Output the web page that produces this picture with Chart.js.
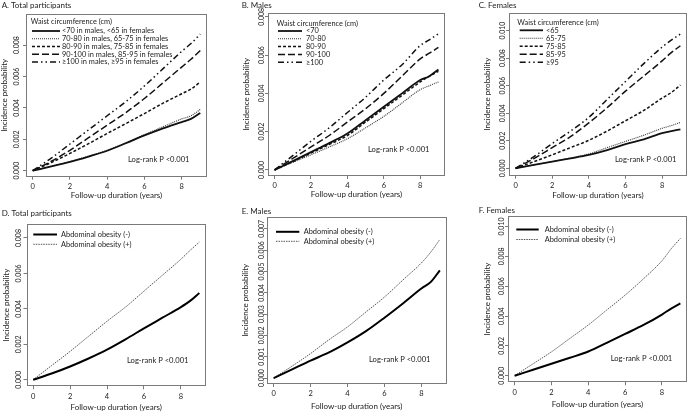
<!DOCTYPE html>
<html>
<head>
<meta charset="utf-8">
<script src="https://cdn.jsdelivr.net/npm/chart.js@4.4.0/dist/chart.umd.min.js"></script>
<style>
html, body { margin: 0; padding: 0; background: #fff; }
#wrap { position: relative; width: 688px; height: 413px; overflow: hidden; }
canvas { position: absolute; }
</style>
</head>
<body>
<div id="wrap">
  <canvas id="cA" width="229" height="205" style="left:0px;top:0px"></canvas>
  <canvas id="cB" width="229" height="205" style="left:229px;top:0px"></canvas>
  <canvas id="cC" width="230" height="205" style="left:458px;top:0px"></canvas>
  <canvas id="cD" width="229" height="208" style="left:0px;top:205px"></canvas>
  <canvas id="cE" width="229" height="208" style="left:229px;top:205px"></canvas>
  <canvas id="cF" width="230" height="208" style="left:458px;top:205px"></canvas>
</div>
<script>
const FONT = 'Lato, "Open Sans", sans-serif';
const TEXT = '#222';
const FRAME = '#7a7a7a';

// follow-up time points (years)
const years = [0, 1, 2, 3, 4, 5, 6, 7, 8, 8.5, 9];
const xTicks = [0, 2, 4, 6, 8];

// y tick values
const yTicksA = [0, 0.002, 0.004, 0.006, 0.008];
const yTicksB = [0, 0.002, 0.004, 0.006, 0.008];
const yTicksC = [0, 0.002, 0.004, 0.006, 0.008, 0.010];
const yTicksD = [0, 0.002, 0.004, 0.006, 0.008];
const yTicksE = [0, 0.001, 0.002, 0.003, 0.004, 0.005, 0.006, 0.007];
const yTicksF = [0, 0.002, 0.004, 0.006, 0.008, 0.010];

// legend labels
const waistTotal = ['<70 in males, <65 in females', '70-80 in males, 65-75 in females', '80-90 in males, 75-85 in females',
  '90-100 in males, 85-95 in females', '\u2265100 in males, \u226595 in females'];
const waistMales = ['<70', '70-80', '80-90', '90-100', '\u2265100'];
const waistFemales = ['<65', '65-75', '75-85', '85-95', '\u226595'];
const obesity = ['Abdominal obesity (-)', 'Abdominal obesity (+)'];

// A. Total participants
const totalW1 = [0, 0.00027, 0.00056, 0.0009, 0.00127, 0.00175, 0.00225, 0.0027, 0.0031, 0.0033, 0.00368];
const totalW2 = [0, 0.00028, 0.00058, 0.00093, 0.0013, 0.00178, 0.0023, 0.0028, 0.0033, 0.0035, 0.0039];
const totalW3 = [0, 0.00052, 0.0011, 0.00172, 0.00237, 0.003, 0.00364, 0.0043, 0.0049, 0.0052, 0.00565];
const totalW4 = [0, 0.0006, 0.0013, 0.0021, 0.0029, 0.0037, 0.0046, 0.0056, 0.0066, 0.0071, 0.00766];
const totalW5 = [0, 0.0008, 0.0017, 0.0026, 0.0035, 0.0044, 0.0054, 0.0065, 0.0076, 0.0081, 0.0087];

// B. Males
const malesW1 = [0, 0.00046, 0.00093, 0.0014, 0.0019, 0.0026, 0.0033, 0.004, 0.0047, 0.0049, 0.00525];
const malesW2 = [0, 0.0004, 0.00079, 0.0012, 0.00163, 0.0022, 0.0028, 0.0035, 0.0042, 0.0044, 0.0046];
const malesW3 = [0, 0.00043, 0.00088, 0.00133, 0.0018, 0.0025, 0.0032, 0.0039, 0.0046, 0.0049, 0.00515];
const malesW4 = [0, 0.0006, 0.0012, 0.0018, 0.0025, 0.0032, 0.004, 0.0049, 0.0058, 0.0061, 0.0064];
const malesW5 = [0, 0.00075, 0.0015, 0.0022, 0.003, 0.0038, 0.0047, 0.0055, 0.0065, 0.0068, 0.00712];

// C. Females
const femalesW1 = [0, 0.00025, 0.00049, 0.00072, 0.00097, 0.00132, 0.00175, 0.0021, 0.00255, 0.0027, 0.00282];
const femalesW2 = [0, 0.00024, 0.00049, 0.00075, 0.00104, 0.0015, 0.00195, 0.0024, 0.0029, 0.0031, 0.00333];
const femalesW3 = [0, 0.00048, 0.00098, 0.0015, 0.00203, 0.0027, 0.00345, 0.0042, 0.0051, 0.0055, 0.00605];
const femalesW4 = [0, 0.0007, 0.0015, 0.0023, 0.0033, 0.0044, 0.0056, 0.0067, 0.0078, 0.0084, 0.0089];
const femalesW5 = [0, 0.00084, 0.0018, 0.0027, 0.0037, 0.005, 0.0063, 0.0076, 0.0088, 0.0093, 0.00975];

// D-F. Abdominal obesity
const totalNoObese = [0, 0.00035, 0.00075, 0.0012, 0.0017, 0.00228, 0.0029, 0.0035, 0.0041, 0.00445, 0.0049];
const totalObese = [0, 0.0008, 0.0016, 0.00245, 0.0033, 0.0041, 0.005, 0.0059, 0.0068, 0.0073, 0.00777];
const malesNoObese = [0, 0.00041, 0.00082, 0.0012, 0.00167, 0.0022, 0.00283, 0.0035, 0.0042, 0.0045, 0.00505];
const malesObese = [0, 0.00056, 0.00115, 0.0018, 0.0024, 0.0031, 0.0038, 0.0046, 0.0054, 0.0059, 0.0065];
const femalesNoObese = [0, 0.0004, 0.0008, 0.0012, 0.00162, 0.0022, 0.0028, 0.0034, 0.0041, 0.0045, 0.00485];
const femalesObese = [0, 0.0008, 0.0016, 0.0025, 0.0034, 0.0044, 0.0054, 0.0065, 0.0077, 0.0085, 0.0092];

const noteText = 'Log-rank P <0.001';

// line styles for the five waist groups and the two obesity groups
const waistStyles = [
  { borderWidth: 1.8, borderDash: [], borderColor: '#111' },
  { borderWidth: 1.1, borderDash: [1, 1], borderColor: '#333' },
  { borderWidth: 1.5, borderDash: [3, 2], borderColor: '#111' },
  { borderWidth: 1.5, borderDash: [7, 3], borderColor: '#111' },
  { borderWidth: 1.5, borderDash: [6, 3, 1.5, 3, 1.5, 3], borderColor: '#111' }
];
const obeseStyles = [
  { borderWidth: 2, borderDash: [], borderColor: '#000' },
  { borderWidth: 1, borderDash: [1.5, 1], borderColor: '#555' }
];

function series(labels, values, styles) {
  return labels.map((lab, i) => Object.assign({
    label: lab,
    data: years.map((t, j) => ({ x: t, y: values[i][j] })),
    pointRadius: 0,
    cubicInterpolationMode: 'monotone',
    fill: false
  }, styles[i]));
}

// frame, rotated y tick labels, panel title, legend and note
const panelDecor = {
  id: 'panelDecor',
  afterDraw(chart, args, o) {
    const { ctx, chartArea: a } = chart;
    ctx.save();
    ctx.strokeStyle = FRAME;
    ctx.lineWidth = 1;
    const l = Math.round(a.left) + 0.5, t = Math.round(a.top) + 0.5;
    const r = Math.round(a.right) - 0.5, b = Math.round(a.bottom) - 0.5;
    ctx.strokeRect(l, t, r - l, b - t);

    ctx.fillStyle = TEXT;
    ctx.font = `7px ${FONT}`;
    ctx.textAlign = 'center';
    ctx.textBaseline = 'middle';
    const ys = chart.scales.y;
    ys.ticks.forEach(tk => {
      ctx.save();
      ctx.translate(a.left - o.yLabelGap, ys.getPixelForValue(tk.value));
      ctx.rotate(-Math.PI / 2);
      ctx.fillText(tk.value.toFixed(3), 0, 0);
      ctx.restore();
    });

    ctx.textAlign = 'left';
    ctx.font = `8px ${FONT}`;
    ctx.fillText(o.title, o.titleX, o.titleY);

    ctx.font = `7.4px ${FONT}`;
    if (o.legendTitle) ctx.fillText(o.legendTitle, o.legendTitleX, o.legendTitleY);
    chart.data.datasets.forEach((ds, i) => {
      const y = o.rowY + i * o.rowGap;
      ctx.save();
      ctx.setLineDash(ds.borderDash || []);
      ctx.lineWidth = ds.borderWidth;
      ctx.strokeStyle = ds.borderColor;
      ctx.beginPath();
      ctx.moveTo(o.lineX1, y);
      ctx.lineTo(o.lineX2, y);
      ctx.stroke();
      ctx.restore();
      ctx.fillText(ds.label, o.textX, y);
    });

    ctx.font = `7.6px ${FONT}`;
    ctx.fillText(noteText, o.noteX, o.noteY);
    ctx.restore();
  }
};

function makePanel(p) {
  const canvas = document.getElementById(p.id);
  const W = canvas.width, H = canvas.height;
  return new Chart(canvas, {
    type: 'line',
    data: { datasets: p.datasets },
    plugins: [panelDecor],
    options: {
      responsive: false,
      animation: false,
      events: [],
      layout: { padding: { left: 0, top: p.T, right: W - p.R, bottom: 0 } },
      plugins: {
        legend: { display: false },
        tooltip: { enabled: false },
        panelDecor: p.decor
      },
      scales: {
        x: {
          type: 'linear',
          min: -0.36,
          max: 9.36,
          afterBuildTicks: s => { s.ticks = xTicks.map(v => ({ value: v })); },
          afterFit: s => { s.height = H - p.B; },
          ticks: { autoSkip: false, maxRotation: 0, padding: 3.3, color: TEXT, font: { family: FONT, size: 7.5, lineHeight: 1 } },
          grid: { drawOnChartArea: false, drawTicks: true, tickLength: 3, color: FRAME },
          border: { display: false },
          title: { display: true, text: 'Follow-up duration (years)', color: TEXT,
            font: { family: FONT, size: 8, lineHeight: 1 }, padding: { top: 0, bottom: p.xTitlePad } }
        },
        y: {
          type: 'linear',
          min: p.yMin,
          max: p.yMax,
          afterBuildTicks: s => { s.ticks = p.yTicks.map(v => ({ value: v })); },
          afterFit: s => { s.width = p.L; },
          ticks: { display: false },
          grid: { drawOnChartArea: false, drawTicks: true, tickLength: 3, color: FRAME },
          border: { display: false },
          title: { display: true, text: 'Incidence probability', color: TEXT,
            font: { family: FONT, size: 8, lineHeight: 1 }, padding: { top: p.yTitlePad, bottom: 0 } }
        }
      }
    }
  });
}

makePanel({
  id: 'cA', L: 26, T: 14, R: 207, B: 176.7, yMin: -0.000384, yMax: 0.009984, yTicks: yTicksA,
  yTitlePad: 0, xTitlePad: 5.3,
  datasets: series(waistTotal, [totalW1, totalW2, totalW3, totalW4, totalW5], waistStyles),
  decor: { title: 'A. Total participants', titleX: 1.7, titleY: 5.7, yLabelGap: 9,
    legendTitle: 'Waist circumference (cm)', legendTitleX: 30.7, legendTitleY: 22,
    lineX1: 32, lineX2: 60, textX: 62, rowY: 31, rowGap: 7.75, noteX: 128, noteY: 159.5 }
});

makePanel({
  id: 'cB', L: 39, T: 12.7, R: 216, B: 176, yMin: -0.000316, yMax: 0.008216, yTicks: yTicksB,
  yTitlePad: 13.7, xTitlePad: 6.7,
  datasets: series(waistMales, [malesW1, malesW2, malesW3, malesW4, malesW5], waistStyles),
  decor: { title: 'B. Males', titleX: 12.7, titleY: 5.7, yLabelGap: 6.5,
    legendTitle: 'Waist circumference (cm)', legendTitleX: 47.7, legendTitleY: 23.3,
    lineX1: 49, lineX2: 73, textX: 77, rowY: 31, rowGap: 7.8, noteX: 139, noteY: 150 }
});

makePanel({
  id: 'cC', L: 51, T: 12.7, R: 229, B: 175.7, yMin: -0.00054, yMax: 0.0113, yTicks: yTicksC,
  yTitlePad: 25.3, xTitlePad: 6,
  datasets: series(waistFemales, [femalesW1, femalesW2, femalesW3, femalesW4, femalesW5], waistStyles),
  decor: { title: 'C. Females', titleX: 20.7, titleY: 5.7, yLabelGap: 6,
    legendTitle: 'Waist circumference (cm)', legendTitleX: 59.3, legendTitleY: 22.7,
    lineX1: 61.7, lineX2: 85, textX: 88, rowY: 30.3, rowGap: 8, noteX: 157, noteY: 160 }
});

makePanel({
  id: 'cD', L: 26.5, T: 19, R: 206, B: 181.3, yMin: -0.00037, yMax: 0.00879, yTicks: yTicksD,
  yTitlePad: 2, xTitlePad: 2,
  datasets: series(obesity, [totalNoObese, totalObese], obeseStyles),
  decor: { title: 'D. Total participants', titleX: 1.7, titleY: 8.3, yLabelGap: 8,
    lineX1: 33.3, lineX2: 57, textX: 61, rowY: 29.5, rowGap: 9.8, noteX: 127, noteY: 155.7 }
});

makePanel({
  id: 'cE', L: 38, T: 11.7, R: 217.5, B: 179, yMin: -0.00028, yMax: 0.00757, yTicks: yTicksE,
  yTitlePad: 12, xTitlePad: 2.3,
  datasets: series(obesity, [malesNoObese, malesObese], obeseStyles),
  decor: { title: 'E. Males', titleX: 12.7, titleY: 6.7, yLabelGap: 5.5,
    lineX1: 47, lineX2: 70.3, textX: 74.7, rowY: 26.8, rowGap: 9.5, noteX: 140, noteY: 155 }
});

makePanel({
  id: 'cF', L: 50, T: 10.7, R: 229, B: 177.3, yMin: -0.00044, yMax: 0.01072, yTicks: yTicksF,
  yTitlePad: 25.3, xTitlePad: 4.7,
  datasets: series(obesity, [femalesNoObese, femalesObese], obeseStyles),
  decor: { title: 'F. Females', titleX: 20.7, titleY: 5.7, yLabelGap: 6.5,
    lineX1: 58.3, lineX2: 80.7, textX: 86.7, rowY: 24.5, rowGap: 10, noteX: 152.7, noteY: 154 }
});
</script>
</body>
</html>
